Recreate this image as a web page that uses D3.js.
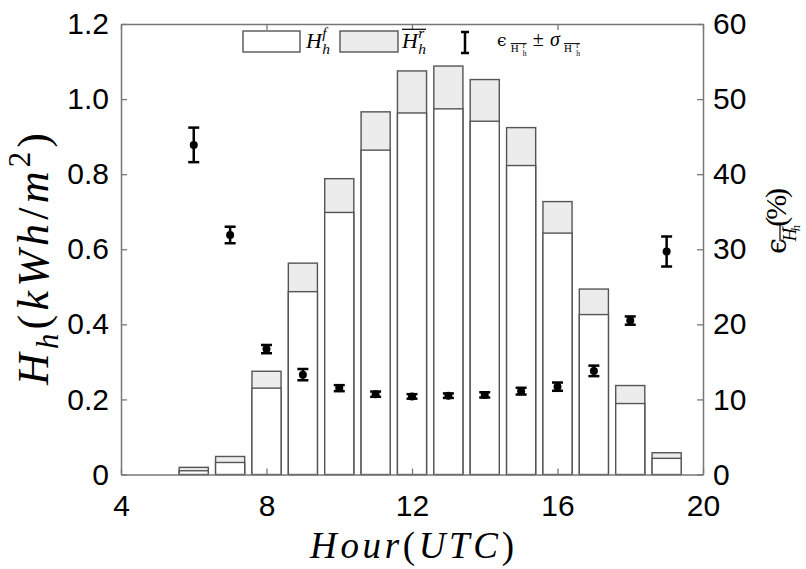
<!DOCTYPE html>
<html>
<head>
<meta charset="utf-8">
<script src="https://cdn.jsdelivr.net/npm/d3@7"></script>
<style>
  html, body { margin: 0; padding: 0; background: #fff; }
  svg { display: block; }
</style>
</head>
<body>
<svg id="chart" width="806" height="569"></svg>
<script>
// ---------------- data ----------------
const hours   = [6, 7, 8, 9, 10, 11, 12, 13, 14, 15, 16, 17, 18, 19];
const Hf      = [0.010, 0.032, 0.230, 0.487, 0.698, 0.864, 0.963, 0.974, 0.941, 0.823, 0.643, 0.426, 0.189, 0.043];
const HrMean  = [0.019, 0.048, 0.275, 0.563, 0.788, 0.966, 1.075, 1.088, 1.052, 0.924, 0.727, 0.494, 0.237, 0.058];
const epsVal  = [43.9, 31.9, 16.7, 13.3, 11.5, 10.7, 10.4, 10.5, 10.6, 11.1, 11.7, 13.8, 20.5, 29.7];
const sigVal  = [2.3, 1.1, 0.55, 0.75, 0.4, 0.35, 0.3, 0.3, 0.35, 0.45, 0.55, 0.7, 0.55, 2.0];
const xTicks  = [4, 8, 12, 16, 20];
const yLTicks = [0, 0.2, 0.4, 0.6, 0.8, 1.0, 1.2];
const yRTicks = [0, 10, 20, 30, 40, 50, 60];

// ---------------- layout ----------------
const L = 121, R = 703, T = 24, B = 474.5;
const svg = d3.select('#chart');
const x  = d3.scaleLinear().domain([4, 20]).range([L, R]);
const yL = d3.scaleLinear().domain([0, 1.2]).range([B, T]);
const yR = d3.scaleLinear().domain([0, 60]).range([B, T]);
const barW = 0.8;
const sansFam  = "'Liberation Sans', Arial, Helvetica, sans-serif";
const serifFam = "'Liberation Serif', 'Times New Roman', 'DejaVu Serif', serif";
const axisCol = '#777';
const barStroke = '#555';

// ---------------- bars ----------------
const bars = svg.append('g');
bars.selectAll('rect.hr').data(hours).join('rect')
  .attr('class', 'hr')
  .attr('x', (d) => x(d - barW / 2))
  .attr('width', (d) => x(d + barW / 2) - x(d - barW / 2))
  .attr('y', (d, i) => yL(HrMean[i]))
  .attr('height', (d, i) => yL(0) - yL(HrMean[i]))
  .attr('fill', '#ececec').attr('stroke', barStroke).attr('stroke-width', 1.4);
bars.selectAll('rect.hf').data(hours).join('rect')
  .attr('class', 'hf')
  .attr('x', (d) => x(d - barW / 2))
  .attr('width', (d) => x(d + barW / 2) - x(d - barW / 2))
  .attr('y', (d, i) => yL(Hf[i]))
  .attr('height', (d, i) => yL(0) - yL(Hf[i]))
  .attr('fill', '#fff').attr('stroke', barStroke).attr('stroke-width', 1.4);

// ---------------- error bars ----------------
const eb = svg.append('g').attr('stroke', '#000').attr('fill', '#000');
const cap = 5.5;
hours.forEach((h, i) => {
  const cx = x(h), y0 = yR(epsVal[i] - sigVal[i]), y1 = yR(epsVal[i] + sigVal[i]);
  eb.append('line').attr('x1', cx).attr('x2', cx).attr('y1', y0).attr('y2', y1).attr('stroke-width', 2.5);
  eb.append('line').attr('x1', cx - cap).attr('x2', cx + cap).attr('y1', y0).attr('y2', y0).attr('stroke-width', 2.5);
  eb.append('line').attr('x1', cx - cap).attr('x2', cx + cap).attr('y1', y1).attr('y2', y1).attr('stroke-width', 2.5);
  eb.append('circle').attr('cx', cx).attr('cy', yR(epsVal[i])).attr('r', 4).attr('stroke', 'none');
});

// ---------------- axes ----------------
function styleAxis(g) {
  g.attr('font-family', sansFam).attr('font-size', 30);
  g.select('.domain').attr('stroke', axisCol).attr('stroke-width', 1.5);
  g.selectAll('.tick line').attr('stroke', axisCol).attr('stroke-width', 1.3);
  g.selectAll('.tick text').attr('fill', '#000');
}
svg.append('g').attr('transform', `translate(0,${B})`)
  .call(d3.axisBottom(x).tickValues(xTicks).tickSize(-6).tickSizeOuter(0).tickPadding(20).tickFormat(d3.format('d')))
  .call(styleAxis);
svg.append('g').attr('transform', `translate(0,${T})`)
  .call(d3.axisTop(x).tickValues(xTicks).tickSize(-6).tickSizeOuter(0).tickFormat(''))
  .call(styleAxis);
svg.append('g').attr('transform', `translate(${L},0)`)
  .call(d3.axisLeft(yL).tickValues(yLTicks).tickSize(-6).tickSizeOuter(0).tickPadding(12)
    .tickFormat((d) => d === 0 ? '0' : d3.format('.1f')(d)))
  .call(styleAxis);
svg.append('g').attr('transform', `translate(${R},0)`)
  .call(d3.axisRight(yR).tickValues(yRTicks).tickSize(-6).tickSizeOuter(0).tickPadding(10).tickFormat(d3.format('d')))
  .call(styleAxis);

// ---------------- math text helper (one <text>, many <tspan>) ----------------
function mathText(parent, o) {
  const size = o.size, fam = o.family || serifFam;
  const g = parent.append('g').attr('transform', `translate(${o.x},${o.y}) rotate(${o.rotate || 0})`);
  const text = g.append('text').attr('font-family', fam).attr('font-size', size).attr('fill', '#000');
  const nodes = o.pieces.map((p) => {
    const t = text.append('tspan')
      .attr('font-family', p.fam || fam)
      .attr('font-size', size * (p.sc || 1))
      .attr('font-style', p.it ? 'italic' : 'normal')
      .text(p.t);
    return { p, t, w: t.node().getComputedTextLength() };
  });
  function layout(extra) {
    const xs = []; let cur = 0, k = 0;
    nodes.forEach((n, i) => {
      if (n.p.stack) { xs[i] = xs[i - 1]; cur = Math.max(cur, xs[i] + n.w); }
      else {
        xs[i] = cur + (n.p.kern || 0) * size + (k > 0 ? extra : 0);
        cur = xs[i] + n.w; k++;
      }
    });
    return { xs, total: cur, count: k };
  }
  let lay = layout(0);
  if (o.target) lay = layout((o.target - lay.total) / (lay.count - 1));
  const off = o.anchor === 'start' ? 0 : -lay.total / 2;
  nodes.forEach((n, i) => {
    n.t.attr('x', off + lay.xs[i]).attr('y', (n.p.dy || 0) * size);
  });
  (o.overlines || []).forEach((ol) => {
    let x1 = Infinity, x2 = -Infinity;
    for (let i = ol.from; i <= ol.to; i++) { x1 = Math.min(x1, lay.xs[i]); x2 = Math.max(x2, lay.xs[i] + nodes[i].w); }
    g.append('line').attr('x1', off + x1 + (ol.pad1 || 0)).attr('x2', off + x2 + (ol.pad2 || 0))
      .attr('y1', ol.dy * size).attr('y2', ol.dy * size)
      .attr('stroke', '#000').attr('stroke-width', ol.w || 1);
  });
  return g;
}

// ---------------- axis titles ----------------
mathText(svg, {
  x: 412, y: 558, size: 37, target: 204,
  pieces: [
    { t: 'H', it: true }, { t: 'o', it: true }, { t: 'u', it: true }, { t: 'r', it: true },
    { t: '(' }, { t: 'U', it: true }, { t: 'T', it: true }, { t: 'C', it: true }, { t: ')' }
  ]
});
mathText(svg, {
  x: 48, y: 259, rotate: -90, size: 44, target: 252,
  pieces: [
    { t: 'H', it: true }, { t: 'h', it: true, sc: 0.7, dy: 0.22 },
    { t: '(' }, { t: 'k', it: true }, { t: 'W', it: true }, { t: 'h', it: true },
    { t: '/' }, { t: 'm', it: true }, { t: '2', sc: 0.7, dy: -0.42 }, { t: ')' }
  ]
});
mathText(svg, {
  x: 786, y: 221, rotate: -90, size: 30, target: 66,
  pieces: [
    { t: 'ϵ', fam: "'DejaVu Serif', serif", sc: 0.95 },
    { t: 'H', it: true, sc: 0.6, dy: 0.32 },
    { t: 'h', it: true, sc: 0.42, dy: 0.47 },
    { t: 'r', it: true, sc: 0.42, dy: 0.06, stack: true },
    { t: '(', kern: 0.05 }, { t: '%' }, { t: ')' }
  ],
  overlines: [{ from: 1, to: 3, dy: -0.2, w: 1.2 }]
});

// ---------------- legend ----------------
const lg = svg.append('g');
lg.append('rect').attr('x', 243).attr('y', 31).attr('width', 57).attr('height', 21)
  .attr('fill', '#fff').attr('stroke', barStroke).attr('stroke-width', 1.4);
lg.append('rect').attr('x', 340).attr('y', 31).attr('width', 58).attr('height', 21)
  .attr('fill', '#ececec').attr('stroke', barStroke).attr('stroke-width', 1.4);
mathText(lg, {
  x: 306, y: 48, size: 22, anchor: 'start',
  pieces: [{ t: 'H', it: true }, { t: 'h', it: true, sc: 0.7, dy: 0.27, kern: 0.02 }, { t: 'f', it: true, sc: 0.7, dy: -0.45, stack: true }]
});
mathText(lg, {
  x: 402, y: 48, size: 22, anchor: 'start',
  pieces: [{ t: 'H', it: true }, { t: 'h', it: true, sc: 0.7, dy: 0.27, kern: 0.02 }, { t: 'r', it: true, sc: 0.7, dy: -0.45, stack: true }],
  overlines: [{ from: 0, to: 2, dy: -0.85, w: 1.2 }]
});
// errorbar legend icon
lg.append('line').attr('x1', 465).attr('x2', 465).attr('y1', 32).attr('y2', 53).attr('stroke', '#000').attr('stroke-width', 2.5);
lg.append('line').attr('x1', 461).attr('x2', 469).attr('y1', 32).attr('y2', 32).attr('stroke', '#000').attr('stroke-width', 2.5);
lg.append('line').attr('x1', 461).attr('x2', 469).attr('y1', 53).attr('y2', 53).attr('stroke', '#000').attr('stroke-width', 2.5);
mathText(lg, {
  x: 497, y: 46, size: 20, anchor: 'start', target: 83,
  pieces: [
    { t: 'ϵ', fam: "'DejaVu Serif', serif", sc: 0.85 },
    { t: 'H', sc: 0.55, dy: 0.32 }, { t: 'h', sc: 0.38, dy: 0.5 }, { t: 'r', sc: 0.38, dy: 0.1, stack: true },
    { t: '±', kern: 0.1 },
    { t: 'σ', it: true, kern: 0.1 },
    { t: 'H', sc: 0.55, dy: 0.32 }, { t: 'h', sc: 0.38, dy: 0.5 }, { t: 'r', sc: 0.38, dy: 0.1, stack: true }
  ],
  overlines: [{ from: 1, to: 3, dy: -0.12, w: 1 }, { from: 6, to: 8, dy: -0.12, w: 1 }]
});
</script>
</body>
</html>
